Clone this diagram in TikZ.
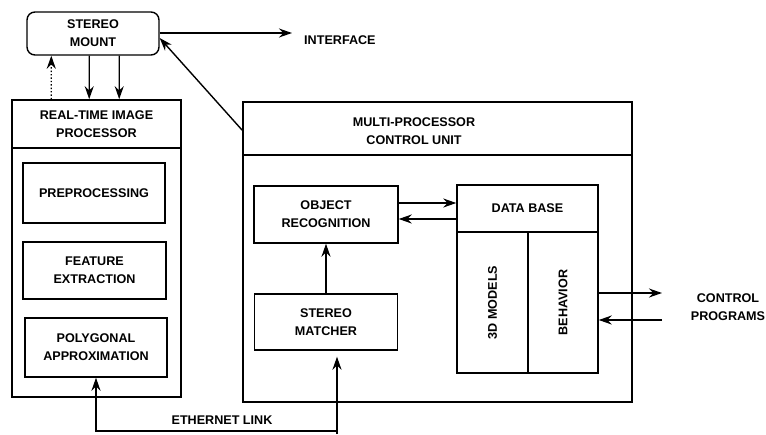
\documentclass[tikz,border=0pt]{standalone}
\usepackage{fontspec}
\setmainfont{Liberation Sans}
\usepackage{tikz}
\usetikzlibrary{positioning,arrows.meta}
\tikzset{
  flowarrow/.style={-{Stealth[length=13pt, width=9pt]}, line width=1.4pt},
  unitbox/.style={draw, line width=1.6pt, minimum width=#1},
  partbox/.style={draw, line width=1.4pt, align=center},
  mountbox/.style={draw, rounded corners=8pt, line width=1.4pt, align=center, minimum width=132pt, minimum height=43pt},
  plainlabel/.style={align=center, inner sep=1pt}
}
\begin{document}
\begin{tikzpicture}[x=1pt, y=-1pt, >=Stealth,
  every node/.style={font=\bfseries\fontsize{12.6}{18}\selectfont}]
  \useasboundingbox (0,0) rectangle (766,434);

  % stereo head and interface
  \node[mountbox] (mount) at (93,33.5) {STEREO\\MOUNT};
  \coordinate (iface) at (292,33);
  \node[plainlabel, anchor=west] (ifacetext) at (303,40) {INTERFACE};

  % real-time image processor
  \node[unitbox=169pt, minimum height=297pt] (rtip) at (96.5,248.5) {};
  \node[partbox, minimum width=169pt, minimum height=48pt] (rtiphead) at (96.5,124) {REAL-TIME IMAGE\\PROCESSOR};
  \node[partbox, minimum width=142pt, minimum height=60pt] (preproc) at (94,193) {PREPROCESSING};
  \node[partbox, minimum width=143pt, minimum height=57pt] (feature) at (94.5,270.5) {FEATURE\\EXTRACTION};
  \node[partbox, minimum width=142pt, minimum height=59pt] (polyap) at (96,347.5) {POLYGONAL\\APPROXIMATION};

  % multi-processor control unit
  \node[unitbox=389pt, minimum height=300pt] (mpcu) at (437.5,252) {};
  \node[partbox, minimum width=389pt, minimum height=53pt] (mpcuhead) at (437.5,128.5) {};
  \node[plainlabel] (mpcutitle) at (414,131) {MULTI-PROCESSOR\\CONTROL UNIT};
  \node[partbox, minimum width=144pt, minimum height=57pt] (objrec) at (326,214.5) {OBJECT\\RECOGNITION};
  \node[partbox, minimum width=143pt, minimum height=56pt] (matcher) at (326,322) {STEREO\\MATCHER};
  \node[partbox, minimum width=141pt, minimum height=188pt] (database) at (527.5,279) {};
  \node[partbox, minimum width=141pt, minimum height=47pt] (dbhead) at (527.5,208.5) {DATA BASE};
  \node[partbox, rotate=90, minimum width=141pt, minimum height=71pt] (models) at (492.5,302.5) {3D MODELS};
  \node[partbox, rotate=90, minimum width=141pt, minimum height=70pt] (behavior) at (563,302.5) {BEHAVIOR};

  % outside links
  \node[plainlabel] (ctrltext) at (728,307) {CONTROL\\PROGRAMS};
  \coordinate (cpout) at (662,293);
  \coordinate (cpin) at (662,320);
  \node[plainlabel] (ethtext) at (222,420) {ETHERNET LINK};
  \coordinate (ethjoin) at (337,431);

  % connectors
  \draw[flowarrow] (mount.east |- iface) -- (iface);
  \draw[flowarrow, dotted] ([xshift=40pt]rtip.north west) -- ([xshift=25pt]mount.south west);
  \draw[flowarrow] ([xshift=63pt]mount.south west) -- ([xshift=78pt]rtip.north west);
  \draw[flowarrow] ([xshift=93pt]mount.south west) -- ([xshift=108pt]rtip.north west);
  \draw[flowarrow] ([yshift=-29pt]mpcu.north west) -- ([yshift=-4.5pt]mount.east);
  \draw[flowarrow] (matcher.north) -- (objrec.south);
  \coordinate (ortop) at ([yshift=11.5pt]objrec.east);
  \coordinate (orbot) at ([yshift=-4.5pt]objrec.east);
  \draw[flowarrow] (ortop) -- (ortop -| database.west);
  \draw[flowarrow] (orbot -| database.west) -- (orbot);
  \draw[flowarrow] (database.east |- cpout) -- (cpout);
  \draw[flowarrow] (cpin) -- (database.east |- cpin);
  \draw[flowarrow] (ethjoin) -| (polyap.south);
  \draw[flowarrow, shorten >=6pt] ([yshift=-3pt]ethjoin) -- (ethjoin |- matcher.south);
\end{tikzpicture}
\end{document}
